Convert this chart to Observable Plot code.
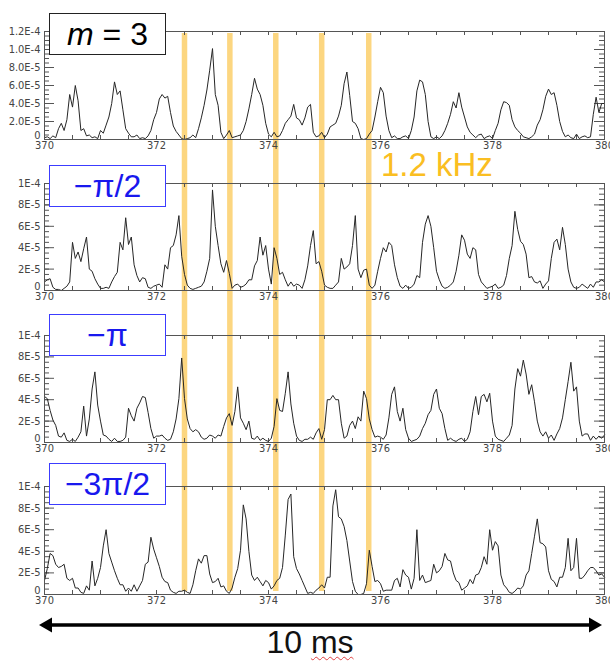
<!DOCTYPE html>
<html><head><meta charset="utf-8">
<script src="https://cdn.jsdelivr.net/npm/d3@7"></script>
<script src="https://cdn.jsdelivr.net/npm/@observablehq/plot@0.6"></script>
<style>
html,body{margin:0;padding:0;background:#fff;}
#wrap{position:relative;width:610px;height:661px;overflow:hidden;background:#fff;font-family:"Liberation Sans",Arial,sans-serif;}
.layer{position:absolute;left:0;}
.box{position:absolute;left:49px;width:117px;height:42px;box-sizing:border-box;background:#fff;border:1.5px solid #3c3cff;color:#1818ee;font-size:32px;display:flex;align-items:center;justify-content:center;line-height:1;white-space:nowrap;}
.box.black{border-color:#222;color:#000;}
#khz{position:absolute;left:381px;top:153px;font-size:33px;color:#FABE22;white-space:nowrap;line-height:24px;height:24px;}
#ten{position:absolute;left:0;width:620px;text-align:center;top:626px;font-size:32px;color:#111;line-height:1;}
#ten span{text-decoration:underline wavy #e04040;text-decoration-thickness:1px;text-underline-offset:3px;}
</style>
</head><body>
<div id="wrap"></div>
<script>
// ---------- data (values in units of 1E-5) ----------
const times = d3.range(201).map(i => Math.round((370 + i * 0.05) * 100) / 100);
const barTimes = [372.5, 373.31, 374.13, 374.95, 375.79];
const xTickLabels = [370, 372, 374, 376, 378, 380];
const xMinorTicks = [370,370.5,371,371.5,372,372.5,373,373.5,374,374.5,375,375.5,376,376.5,377,377.5,378,378.5,379,379.5,380];
const yTicks1 = [0, 2e-5, 4e-5, 6e-5, 8e-5, 1.0e-4, 1.2e-4];
const yLabels1 = ["0","2.0E-5","4.0E-5","6.0E-5","8.0E-5","1.0E-4","1.2E-4"];
const yTicks2 = [0, 2e-5, 4e-5, 6e-5, 8e-5, 1e-4];
const yLabels2 = ["0","2E-5","4E-5","6E-5","8E-5","1E-4"];
const panelLabels = ["m = 3", "\u2212\u03c0/2", "\u2212\u03c0", "\u22123\u03c0/2"];
const freqLabel = "1.2 kHz";
const spanLabel = "10 ms";

const m3Values = [0.2,0.3,0.1,0.4,0.2,1.2,1.8,1.0,2.2,5.0,
 3.6,6.0,4.3,1.0,1.2,0.4,0.5,0.2,0.3,0.1,
 1.0,0.7,1.6,2.5,4.0,6.4,5.0,5.4,3.3,1.2,
 0.7,0.3,0.3,0.5,0.1,0.2,0.1,0.4,1.0,2.2,
 3.0,4.5,5.0,4.6,4.8,3.0,1.5,0.9,0.5,0.1,
 0.0,0.1,0.2,0.5,0.2,1.2,2.4,3.8,5.5,7.7,
 10.1,5.0,3.8,0.8,0.1,0.5,1.0,0.2,0.3,0.4,
 0.5,1.0,2.0,3.4,5.0,6.8,5.6,5.0,3.8,1.8,
 0.6,0.3,0.8,0.3,0.4,1.0,1.8,2.2,2.6,3.9,
 2.4,2.2,1.6,2.4,3.6,3.9,0.8,0.3,0.4,0.8,
 0.2,0.6,1.4,1.6,1.8,2.6,3.8,6.2,7.5,4.9,
 2.0,1.8,1.2,0.1,0.0,0.1,0.6,1.0,2.5,4.2,
 5.8,5.2,2.6,1.0,0.2,0.4,0.1,0.1,0.3,0.4,
 0.1,1.0,2.5,5.4,6.6,6.4,5.0,2.0,0.3,0.1,
 0.3,0.1,0.4,1.0,1.8,2.8,4.2,3.5,5.2,3.6,
 2.5,1.4,0.8,0.5,0.2,0.5,0.6,0.1,0.3,0.4,
 0.1,1.0,1.8,3.3,4.2,4.1,3.8,2.2,1.4,1.0,
 0.7,0.3,0.2,0.1,0.3,0.6,1.6,2.2,3.3,4.8,
 5.6,5.0,5.2,3.8,2.0,0.9,0.3,0.5,0.2,0.1,
 0.6,0.1,0.3,0.4,0.2,0.3,2.8,4.7,3.0,4.0,
 4.0];

const mpi2Values = [0.8,1.0,1.1,0.3,0.1,0.1,0.0,0.2,0.4,0.8,
 4.5,3.0,3.6,2.7,3.9,5.0,2.0,1.8,1.1,0.6,
 0.2,0.2,0.3,0.2,0.8,1.3,1.7,4.5,3.8,6.8,
 4.3,5.0,2.4,1.4,0.8,1.2,1.1,0.3,0.2,0.4,
 0.5,0.6,0.3,2.4,2.0,4.0,4.2,5.2,7.0,3.2,
 1.5,0.5,0.2,0.1,0.2,0.3,0.4,0.8,1.8,3.0,
 9.4,6.0,4.2,2.5,1.7,2.8,1.6,0.2,0.5,0.6,
 0.3,0.4,0.6,1.0,1.0,2.3,2.8,5.0,3.3,4.2,
 2.0,0.6,4.0,3.0,1.5,1.7,1.0,0.4,0.8,0.4,
 0.6,0.5,0.2,1.0,2.3,4.2,5.6,2.5,2.7,1.8,
 0.5,0.3,0.2,0.2,0.5,0.8,3.0,2.0,2.2,2.5,
 4.2,7.0,2.0,1.2,1.9,2.0,0.5,0.2,0.5,1.8,
 3.0,4.0,3.6,4.5,4.2,2.4,1.2,0.4,0.2,0.5,
 0.2,0.3,0.6,1.4,1.2,4.5,6.2,7.0,6.0,4.0,
 1.8,1.0,0.4,0.2,0.3,0.5,0.8,1.8,3.3,5.2,
 4.7,3.4,3.0,4.0,3.8,1.5,0.8,0.5,0.2,0.3,
 0.4,0.6,0.2,0.3,0.5,1.4,3.0,4.2,7.4,5.7,
 4.6,4.3,3.4,1.2,1.3,0.8,0.7,0.9,0.2,0.6,
 0.9,3.0,4.5,4.8,3.8,5.9,4.3,2.0,0.8,0.3,
 0.2,0.3,0.6,0.4,0.2,0.6,0.3,0.8,0.8,1.0,
 0.8];

const mpiValues = [4.3,4.1,3.0,2.1,1.6,0.6,0.5,0.9,0.2,0.1,
 0.3,0.1,0.5,1.0,3.4,0.6,2.2,5.0,6.6,3.5,
 2.0,0.7,0.6,0.3,0.1,0.4,0.1,0.1,0.2,0.5,
 3.2,2.5,2.0,3.2,3.7,4.3,4.2,2.8,1.3,0.4,
 0.6,0.6,0.7,0.4,0.2,0.3,1.0,2.2,4.1,7.9,
 4.1,2.2,1.3,1.0,1.2,1.0,0.5,0.3,0.4,0.7,
 0.6,0.4,0.7,0.6,1.5,2.3,2.7,1.6,2.9,5.2,
 2.3,1.8,1.2,2.0,0.4,0.3,0.6,0.2,0.4,0.2,
 0.1,0.4,1.5,4.1,3.0,2.9,4.6,6.6,3.6,1.8,
 0.6,0.2,0.1,0.3,0.3,0.5,0.3,0.9,1.3,0.3,
 1.2,4.0,4.0,4.4,4.0,4.0,1.8,0.4,0.6,1.6,
 2.0,1.3,2.4,2.0,4.8,4.1,2.2,1.2,0.5,0.6,
 0.5,0.3,0.7,2.3,4.5,5.2,2.9,2.0,3.2,1.2,
 0.4,0.1,0.2,0.3,0.6,1.3,1.8,2.6,3.0,4.5,
 5.0,3.2,2.7,1.3,0.2,0.4,0.2,0.1,0.3,0.4,
 0.1,0.3,1.0,2.9,4.3,2.6,4.3,4.5,3.8,4.6,
 2.0,0.6,0.3,0.2,0.1,0.4,0.7,1.6,5.0,6.9,
 6.2,7.7,6.4,4.5,5.4,3.8,2.0,1.0,0.6,1.0,
 0.4,0.7,0.2,0.8,1.3,2.3,4.0,5.7,7.5,4.8,
 5.2,2.0,0.6,0.8,0.8,0.2,0.6,0.3,0.6,0.4,
 0.7];

const m3pi2Values = [1.3,2.4,3.8,3.6,2.8,2.5,2.6,2.8,1.5,1.3,
 1.5,0.6,0.6,0.2,0.1,0.8,0.4,3.1,0.8,1.5,
 2.5,4.5,6.0,3.8,3.0,2.2,1.5,0.9,0.9,0.3,
 0.6,0.3,0.9,0.3,0.8,1.3,2.8,3.0,5.3,4.2,
 3.4,2.6,1.6,1.2,1.1,0.4,0.2,0.1,0.3,0.3,
 0.4,0.2,0.1,0.9,2.2,3.3,2.9,3.6,3.6,1.9,
 1.1,1.2,1.5,0.7,0.8,0.3,0.1,0.6,1.6,2.4,
 4.1,8.3,7.0,4.0,1.8,1.3,1.6,1.2,0.8,1.3,
 1.1,0.5,0.8,1.3,1.5,2.5,5.5,8.8,9.3,3.5,
 2.4,1.9,1.3,0.7,0.1,0.2,0.1,0.4,0.6,0.9,
 0.6,1.6,1.6,8.2,9.7,7.2,7.0,6.3,5.0,3.1,
 1.2,0.3,0.0,0.0,0.1,1.0,4.1,2.6,1.2,1.3,
 1.0,0.3,0.4,0.4,0.4,1.3,1.5,0.7,2.3,1.8,
 1.6,0.5,1.5,6.0,1.3,1.8,1.1,1.2,1.3,2.8,
 2.0,2.2,2.6,3.8,3.2,3.1,2.0,1.3,1.1,0.4,
 0.6,0.8,1.4,1.0,1.8,1.9,2.5,3.5,2.8,6.0,
 4.1,4.9,4.5,1.8,0.9,0.6,0.2,0.1,0.3,0.6,
 0.5,0.8,1.8,2.2,3.8,5.4,7.0,4.8,4.7,4.4,
 2.2,1.4,1.2,0.7,1.6,1.6,2.5,5.2,2.2,2.5,
 5.2,1.5,1.5,1.8,2.2,2.5,2.5,2.2,1.8,1.9,
 1.6];

// ---------- layout ----------
const W = 610, ML = 44, MR = 6, MT = 8, MB = 22;
const innerW = W - ML - MR;
const tickFont = '"Liberation Sans Narrow","DejaVu Sans Condensed","Liberation Sans",sans-serif';
const panels = [
  {values: m3Values,    top: 31,  bottom: 139, ymax: 1.2e-4, ticks: yTicks1, labels: yLabels1, boxTop: 13,  black: true},
  {values: mpi2Values,  top: 183, bottom: 290, ymax: 1e-4,   ticks: yTicks2, labels: yLabels2, boxTop: 165},
  {values: mpiValues,   top: 335, bottom: 442, ymax: 1e-4,   ticks: yTicks2, labels: yLabels2, boxTop: 314},
  {values: m3pi2Values, top: 486, bottom: 594, ymax: 1e-4,   ticks: yTicks2, labels: yLabels2, boxTop: 463}
];

const wrap = document.getElementById("wrap");

// yellow 1.2 kHz markers (behind the panels)
const overlay = Plot.plot({
  width: W, height: 661, marginLeft: ML, marginRight: MR, marginTop: 0, marginBottom: 0,
  style: {background: "transparent"},
  x: {domain: [370, 380], axis: null},
  y: {type: "identity", axis: null},
  marks: [Plot.ruleX(barTimes, {x: d => d, y1: 33, y2: 591, stroke: "#FCD680", strokeWidth: 5.5})]
});
overlay.classList.add("layer");
overlay.style.top = "0px";
wrap.appendChild(overlay);

panels.forEach((p, k) => {
  const innerH = p.bottom - p.top;
  const rows = times.map((t, i) => ({t, v: p.values[i] * 1e-5}));
  const fmt = new Map(p.ticks.map((t, i) => [t, p.labels[i]]));
  const minors = d3.range(0, p.ymax + 1e-12, 5e-6);
  const chart = Plot.plot({
    width: W, height: innerH + MT + MB,
    marginLeft: ML, marginRight: MR, marginTop: MT, marginBottom: MB,
    style: {background: "transparent", overflow: "visible", fontFamily: tickFont, color: "#444"},
    x: {domain: [370, 380]},
    y: {domain: [0, p.ymax]},
    marks: [
      Plot.ruleY(minors, {y: d => d, stroke: "#555", insetRight: innerW - 5}),
      Plot.ruleY(minors, {y: d => d, stroke: "#555", insetLeft: innerW - 5}),
      Plot.ruleY(p.ticks, {y: d => d, stroke: "#555", insetRight: innerW - 10}),
      Plot.ruleY(p.ticks, {y: d => d, stroke: "#555", insetLeft: innerW - 10}),
      Plot.ruleX(xMinorTicks, {x: d => d, stroke: "#555", insetBottom: innerH - 4}),
      Plot.ruleX(xMinorTicks, {x: d => d, stroke: "#555", insetTop: innerH - 4}),
      Plot.line(rows, {x: "t", y: "v", stroke: "#262626", strokeWidth: 1}),
      Plot.frame({stroke: "#555"}),
      Plot.axisY({ticks: p.ticks.filter(t => t > 0), tickSize: 0, tickPadding: 4, tickFormat: d => fmt.get(d), label: null, fontSize: 11}),
      Plot.axisY({ticks: [0], tickSize: 0, tickPadding: 4, tickFormat: d => fmt.get(d), label: null, fontSize: 11, dy: -4}),
      Plot.axisX({ticks: xTickLabels, tickSize: 0, tickPadding: 2, tickFormat: d => String(d), label: null, fontSize: 11})
    ]
  });
  chart.classList.add("layer");
  chart.style.top = (p.top - MT) + "px";
  wrap.appendChild(chart);

  const box = document.createElement("div");
  box.className = "box" + (p.black ? " black" : "");
  box.style.top = p.boxTop + "px";
  if (k === 0) {
    box.innerHTML = '<i>m</i>&nbsp;=&nbsp;3';
  } else {
    box.textContent = panelLabels[k];
  }
  wrap.appendChild(box);
});

const khz = document.createElement("div");
khz.id = "khz";
khz.textContent = freqLabel;
wrap.appendChild(khz);

// double-headed arrow
const ns = "http://www.w3.org/2000/svg";
const arr = document.createElementNS(ns, "svg");
arr.setAttribute("width", W); arr.setAttribute("height", 661);
arr.setAttribute("class", "layer"); arr.style.top = "0px";
arr.innerHTML = '<line x1="50" x2="591" y1="625" y2="625" stroke="#000" stroke-width="3.5"/>' +
  '<polygon points="39,625 52,617.5 52,632.5" fill="#000"/>' +
  '<polygon points="602,625 589,617.5 589,632.5" fill="#000"/>';
wrap.appendChild(arr);

const ten = document.createElement("div");
ten.id = "ten";
const parts = spanLabel.split(" ");
ten.innerHTML = parts[0] + " <span>" + parts[1] + "</span>";
wrap.appendChild(ten);
</script>
</body></html>
